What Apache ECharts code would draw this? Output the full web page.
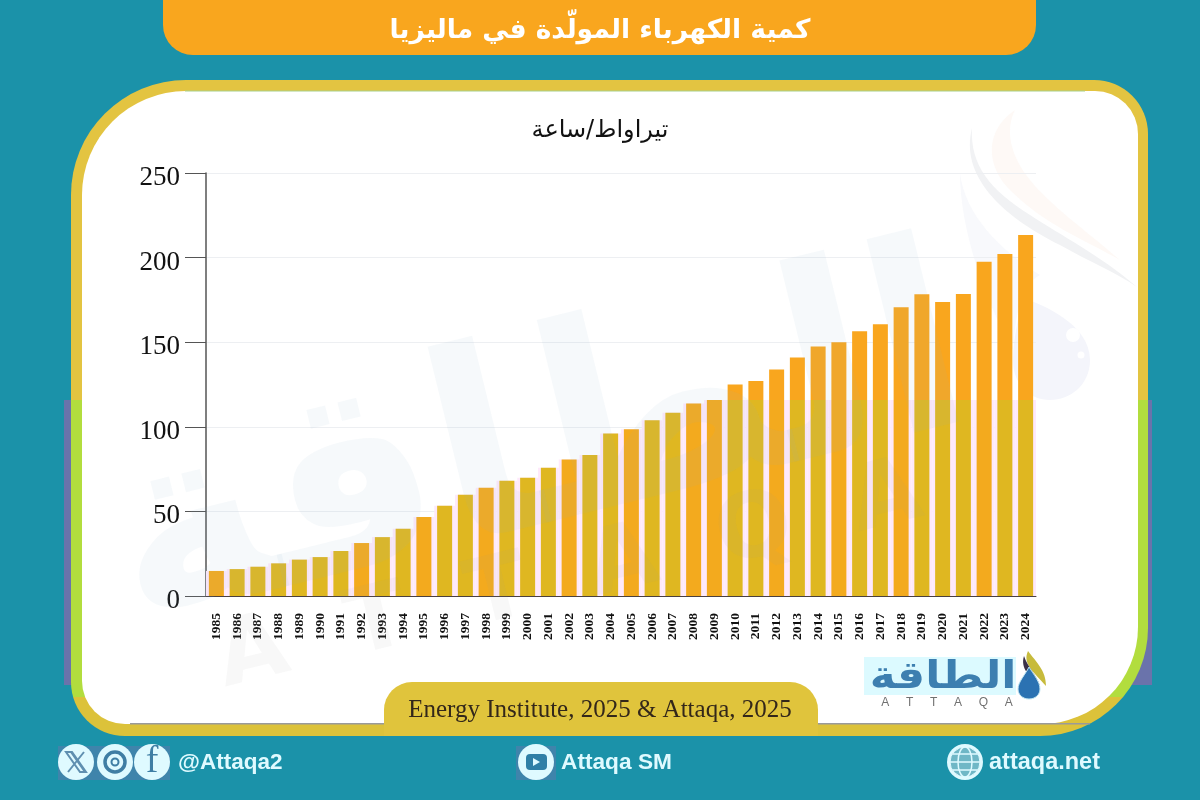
<!DOCTYPE html>
<html>
<head>
<meta charset="utf-8">
<title>كمية الكهرباء المولّدة في ماليزيا</title>
<style>html,body{margin:0;padding:0;background:#1b92a9}#main{width:1200px;height:800px}</style>
<script src="https://cdn.jsdelivr.net/npm/echarts@6/dist/echarts.min.js"></script>
</head>
<body>
<div id="main"></div>
<script>
var years = ['1985','1986','1987','1988','1989','1990','1991','1992','1993','1994',
  '1995','1996','1997','1998','1999','2000','2001','2002','2003','2004',
  '2005','2006','2007','2008','2009','2010','2011','2012','2013','2014',
  '2015','2016','2017','2018','2019','2020','2021','2022','2023','2024'];
var generation = [14.8,15.9,17.3,19.3,21.5,23,26.6,31.3,34.8,39.8,
  46.7,53.3,59.8,64,68.1,69.9,75.8,80.7,83.3,96,
  98.6,103.9,108.3,113.8,115.9,125,127,133.9,140.9,147.4,
  150,156.5,160.6,170.7,178.3,173.8,178.5,197.6,202.2,213.4];
var warmYears = ['1985','1992','1995','1998','2002','2005','2008','2009','2012','2015','2018','2022'];
var titleText = 'كمية الكهرباء المولّدة في ماليزيا';
var unitText = 'تيراواط/ساعة';
var sourceText = 'Energy Institute, 2025 & Attaqa, 2025';

var serif = '"Liberation Serif"';
var arabic = '"DejaVu Sans"';
var ice = '#dffaff';

// the picture changes tint below y=400, so the colours are split there
function splitY(top, bottom) {
  var cut = (400 - 80) / 656;
  return new echarts.graphic.LinearGradient(0, 80, 0, 736, [
    {offset: 0, color: top}, {offset: cut, color: top},
    {offset: cut, color: bottom}, {offset: 0.94, color: bottom},
    {offset: 0.94, color: '#dcc23a'}, {offset: 1, color: '#dcc23a'}
  ], true);
}
function barColor(top, bottom) {
  return new echarts.graphic.LinearGradient(0, 173, 0, 596, [
    {offset: 0, color: top}, {offset: 0.5366, color: top},
    {offset: 0.5366, color: bottom}, {offset: 1, color: bottom}
  ], true);
}

function shape(name, d) {
  echarts.graphic.registerShape(name, echarts.graphic.extendPath(d));
}
shape('swooshGrey', 'M972 128C960 175 1000 215 1060 245C1090 262 1115 272 1137 287C1100 255 1060 235 1030 215C990 190 970 165 972 128Z');
shape('swooshBlue', 'M960 173C965 215 1000 250 1040 275C1020 285 1015 320 1013 350C985 300 960 230 960 173Z');
shape('swooshPeach', 'M1015 110C985 130 985 165 1010 190C1045 225 1085 240 1120 260C1085 230 1050 205 1030 180C1010 155 1005 130 1015 110Z');
shape('drop', 'M1020 297C1045 305 1090 325 1090 360C1090 385 1070 400 1050 400C1030 400 1013 385 1013 360C1013 335 1020 320 1020 297Z');
shape('logoDrop', 'M1029 667C1034 675 1040 682 1040 689C1040 695 1035 699 1029 699C1023 699 1018 695 1018 689C1018 682 1025 675 1029 667Z');
shape('logoSwooshA', 'M1028 651C1022 664 1034 672 1046 686C1046 670 1036 662 1028 651Z');
shape('logoSwooshB', 'M1024 656C1020 668 1030 678 1040 686C1036 674 1028 668 1024 656Z');
shape('xMark', 'M66 752L72 752L86 772L80 772ZM84 752L68 772M71 752L85 772');

function label(text, x, y, font, fill, align, extra) {
  var s = {text: text, x: x, y: y, font: font, fill: fill, textAlign: align || 'center', textVerticalAlign: 'middle'};
  for (var k in extra) s[k] = extra[k];
  return {type: 'text', z: 10, silent: true, style: s};
}
function disc(cx, cy, r, fill, stroke, lw, z) {
  return {type: 'circle', z: z || 10, silent: true, shape: {cx: cx, cy: cy, r: r},
    style: {fill: fill, stroke: stroke || null, lineWidth: lw || 0}};
}
function box(x, y, w, h, r, fill, z) {
  return {type: 'rect', z: z, silent: true, shape: {x: x, y: y, width: w, height: h, r: r}, style: {fill: fill}};
}
function mark(text, font, x, y, fill) {
  return {type: 'text', z: 3, silent: true, x: x, y: y, rotation: 0.24,
    style: {text: text, font: font, fill: fill, textAlign: 'center', textVerticalAlign: 'middle'}};
}

var decor = [
  // frame
  box(64, 400, 1088, 285, 0, '#6a73ab', -20),
  box(71, 80, 1077, 656, [115, 54, 108, 54], splitY('#e3c441', '#b2dd3e'), -19),
  box(82, 91, 1056, 633, [104, 43, 97, 43], '#ffffff', -18),
  box(185, 90.5, 900, 1, 0, '#a8cf8a', -17),
  box(130, 723, 960, 1.5, 0, '#9a9a9a', -17),
  // header and source tab
  box(163, 0, 873, 55, [0, 0, 30, 30], '#f9a61e', -16),
  label(titleText, 600, 31, 'bold 26.5px ' + arabic, '#ffffff', 'center',
    {shadowColor: 'rgba(70,50,0,0.55)', shadowBlur: 3, shadowOffsetY: 1}),
  label(unitText, 600, 131, '24px ' + arabic, '#111111'),
  box(384, 682, 434, 54, [28, 28, 0, 0], '#e0c43c', -16),
  label(sourceText, 600, 710, '25px ' + serif, '#33271a'),

  // faint artwork behind the plot
  {type: 'swooshPeach', z: -9, silent: true, style: {fill: '#fef9f6'}},
  {type: 'swooshBlue', z: -9, silent: true, style: {fill: '#f8f9fc'}},
  {type: 'swooshGrey', z: -8, silent: true, style: {fill: '#f1f2f4'}},
  {type: 'drop', z: -8, silent: true, style: {fill: '#f4f5fb'}},
  disc(1073, 335, 7, '#ffffff', null, 0, -7),
  disc(1081, 355, 3.5, '#ffffff', null, 0, -7),
  mark('الطاقة', 'bold 262px ' + arabic, 540, 454, 'rgba(140,180,200,0.08)'),
  mark('A  T  T  A  Q  A', 'bold 90px ' + arabic, 570, 578, 'rgba(150,150,160,0.07)'),

  // logo
  box(864, 657, 152, 38, 0, '#dcfaff', 9),
  {type: 'text', z: 10, silent: true, x: 943, y: 678, scaleX: 1.16,
    style: {text: 'الطاقة', font: 'bold 38px ' + arabic, fill: '#3d7fb0', textAlign: 'center', textVerticalAlign: 'middle'}},
  {type: 'logoSwooshA', z: 10, silent: true, style: {fill: '#c7bb3c'}},
  {type: 'logoSwooshB', z: 11, silent: true, style: {fill: '#3a3048'}},
  {type: 'logoDrop', z: 12, silent: true, style: {fill: '#2b72b2', stroke: '#bfe6f2', lineWidth: 1}},
  label('A     T     T     A     Q     A', 947, 703, '12px "Liberation Sans"', '#707070'),

  // footer
  box(58, 746, 112, 34, 0, '#3f84ab', 8),
  disc(76, 762, 18, ice),
  {type: 'xMark', z: 11, silent: true, style: {fill: null, stroke: '#5f8fb0', lineWidth: 2}},
  disc(115, 762, 18, ice),
  disc(115, 762, 10, null, '#3f7ea4', 3.5, 11),
  disc(115, 762, 3.5, null, '#3f7ea4', 2, 11),
  disc(152, 762, 18, ice),
  label('f', 152, 762, '38px ' + serif, '#3f7ea4', 'center', {}),
  label('@Attaqa2', 178, 763, 'bold 22.5px "Liberation Sans"', ice, 'left'),

  box(516, 746, 40, 34, 0, '#3f84ab', 8),
  disc(536, 762, 18, ice),
  {type: 'rect', z: 11, silent: true, shape: {x: 526, y: 754, width: 21, height: 16, r: 4}, style: {fill: '#2f7fa6'}},
  {type: 'polygon', z: 12, silent: true, shape: {points: [[533, 758], [533, 766], [540, 762]]}, style: {fill: ice}},
  label('Attaqa SM', 561, 763, 'bold 22.7px "Liberation Sans"', ice, 'left'),

  disc(965, 762, 18, ice),
  disc(965, 762, 15, '#6fb7c6', ice, 1, 11),
  {type: 'ellipse', z: 12, silent: true, shape: {cx: 965, cy: 762, rx: 7, ry: 15}, style: {fill: null, stroke: ice, lineWidth: 1.5}},
  {type: 'line', z: 12, silent: true, shape: {x1: 950, y1: 762, x2: 980, y2: 762}, style: {stroke: ice, lineWidth: 1.5}},
  {type: 'line', z: 12, silent: true, shape: {x1: 953, y1: 754, x2: 977, y2: 754}, style: {stroke: ice, lineWidth: 1.5}},
  {type: 'line', z: 12, silent: true, shape: {x1: 953, y1: 770, x2: 977, y2: 770}, style: {stroke: ice, lineWidth: 1.5}},
  label('attaqa.net', 989, 763, 'bold 23.5px "Liberation Sans"', ice, 'left')
];

var warmColor = barColor('#f9a61e', '#f3aa1e');
var coolColor = barColor('#f9a61e', '#dfb721');
var haloColor = barColor('rgba(255,255,255,0)', '#fee9fb');

var chart = echarts.init(document.getElementById('main'));
chart.setOption({
  animation: false,
  backgroundColor: '#1b92a9',
  graphic: {elements: decor},
  grid: {left: 206, top: 173, width: 830, height: 423, containLabel: false},
  xAxis: [{
    type: 'category',
    data: years,
    axisLine: {lineStyle: {color: '#4a4040', width: 1}},
    axisTick: {alignWithLabel: true, length: 10, lineStyle: {color: '#333333'}},
    axisLabel: {interval: 0, rotate: 90, margin: 17, color: '#111111',
      fontFamily: serif, fontWeight: 'bold', fontSize: 13.5}
  }, {
    type: 'category',
    data: years,
    show: false
  }],
  yAxis: {
    type: 'value',
    min: 0,
    max: 250,
    interval: 50,
    axisLine: {show: true, lineStyle: {color: '#555555', width: 1.5}},
    axisTick: {show: true, length: 21, lineStyle: {color: '#555555'}},
    axisLabel: {margin: 26, color: '#111111', fontFamily: serif, fontSize: 27, verticalAlign: 'top', lineHeight: 10},
    splitLine: {lineStyle: {color: '#edeff2', width: 1}}
  },
  series: [{
    // pale rim that surrounds the lower part of the bars
    name: 'rim',
    type: 'bar',
    xAxisIndex: 1,
    data: generation,
    barWidth: '100%',
    silent: true,
    z: 1,
    itemStyle: {color: haloColor}
  }, {
    name: 'تيراواط/ساعة',
    type: 'bar',
    xAxisIndex: 0,
    data: generation.map(function (v, i) {
      return {value: v, itemStyle: {color: warmYears.indexOf(years[i]) >= 0 ? warmColor : coolColor}};
    }),
    barWidth: 15,
    z: 2
  }]
});
</script>
</body>
</html>
